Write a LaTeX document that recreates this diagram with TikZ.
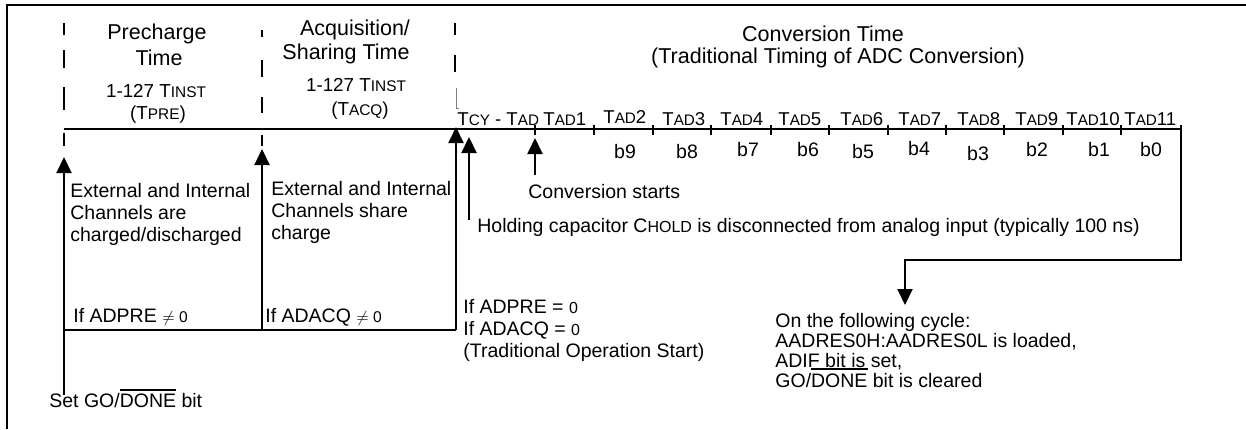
\documentclass[tikz,border=0pt]{standalone}
\usepackage{fontspec}
\setmainfont{Liberation Sans}
\usetikzlibrary{arrows.meta}
\newcommand\smc[1]{\scalebox{0.82}{#1}}
\newcommand\ovl[2]{\setbox0\hbox{#2}\rlap{\rule[#1]{\wd0}{0.8pt}}\box0\relax}
\tikzset{
  ln/.style={line width=1pt},
  arr/.style={line width=1pt,-{Triangle[width=7.5pt,length=8pt]}},
  body/.style={font=\fontsize{9.75}{11}\selectfont, inner sep=0pt, anchor=base west},
  bl/.style={font=\fontsize{9.75}{11}\selectfont, inner sep=0pt, anchor=base},
  ttl/.style={font=\fontsize{10.75}{12}\selectfont, inner sep=0pt, anchor=base},
  sub/.style={font=\fontsize{9.4}{10}\selectfont, inner sep=0pt, anchor=base},
  tlab/.style={font=\fontsize{9.3}{10}\selectfont, inner sep=0pt, anchor=base west},
}
\begin{document}
\begin{tikzpicture}[x=0.5pt,y=-0.5pt]
\useasboundingbox (0,0) rectangle (1246,429);
% frame
\draw[ln] (1246,5) -- (7,5) -- (7,429);
% dashed separators
\foreach \a/\b in {23/35,50/68,87/110,133/146} \draw[ln] (64,\a) -- (64,\b);
\foreach \a/\b in {30/37,60/77,97/113,135/146} \draw[ln] (262,\a) -- (262,\b);
\foreach \a/\b in {23/35,55/72} \draw[ln] (455,\a) -- (455,\b);
\draw[gray,line width=0.4pt] (456,88) -- (456,108) -- (459,108);
% titles
\node[ttl] (p1) at (157,39) {Precharge};
\node[ttl] (p2) at (159,65) {Time};
\node[sub] (p3) at (156,97) {1-127 T\smc{INST}};
\node[sub] (p4) at (158,119) {(T\smc{PRE})};
\node[ttl] (q1) at (355,35) {Acquisition/};
\node[ttl] (q2) at (346,59) {Sharing Time};
\node[sub] (q3) at (356,91) {1-127 T\smc{INST}};
\node[sub] (q4) at (360,115) {(T\smc{ACQ})};
\node[ttl] (c1t) at (823,41) {Conversion Time};
\node[ttl] (c2t) at (838,63) {(Traditional Timing of ADC Conversion)};
% timeline
\coordinate (tl0) at (64,129);
\coordinate (tl1) at (1181,129);
\draw[line width=1.1pt] (tl0) -- (tl1);
\foreach \x in {535,594,653,711,771,829,888,946,1004,1063,1121} \draw[ln] (\x,125) -- (\x,135);
% timeline labels
\node[tlab] (l0) at (457,125) {T\smc{CY} - T\smc{AD}};
\node[tlab] (l1) at (543,125) {T\smc{AD}1};
\node[tlab] (l2) at (603,123) {T\smc{AD}2};
\node[tlab] (l3) at (662,125) {T\smc{AD}3};
\node[tlab] (l4) at (720,125) {T\smc{AD}4};
\node[tlab] (l5) at (778,125) {T\smc{AD}5};
\node[tlab] (l6) at (840,125) {T\smc{AD}6};
\node[tlab] (l7) at (898,125) {T\smc{AD}7};
\node[tlab] (l8) at (957,125) {T\smc{AD}8};
\node[tlab] (l9) at (1015,125) {T\smc{AD}9};
\node[tlab] (l10) at (1066,125) {T\smc{AD}10};
\node[tlab] (l11) at (1124,125) {T\smc{AD}11};
% bit labels
\node[bl] (b9) at (625,158) {b9};
\node[bl] (b8) at (687,158) {b8};
\node[bl] (b7) at (748,156) {b7};
\node[bl] (b6) at (808,156) {b6};
\node[bl] (b5) at (863,158) {b5};
\node[bl] (b4) at (919,155) {b4};
\node[bl] (b3) at (978,160) {b3};
\node[bl] (b2) at (1037,156) {b2};
\node[bl] (b1) at (1099,156) {b1};
\node[bl] (b0) at (1151,156) {b0};
% texts
\node[body] (e1) at (70,197) {External and Internal};
\node[body] (e2) at (70,219) {Channels are};
\node[body] (e3) at (70,241) {charged/discharged};
\node[body] (s1) at (271,195) {External and Internal};
\node[body] (s2) at (271,217) {Channels share};
\node[body] (s3) at (271,239) {charge};
\node[body] (cs) at (528,198) {Conversion starts};
\node[body] (hc) at (477,232) {Holding capacitor C\smc{HOLD} is disconnected from analog input (typically 100 ns)};
\node[body] (ip) at (73,322) {If ADPRE \scalebox{0.8}{$\neq$ 0}};
\node[body] (ia) at (265,322) {If ADACQ \scalebox{0.8}{$\neq$ 0}};
\node[body] (z1) at (463,313) {If ADPRE = \smc{0}};
\node[body] (z2) at (463,335) {If ADACQ = \smc{0}};
\node[body] (z3) at (463,357) {(Traditional Operation Start)};
\node[body] (f1) at (775,327) {On the following cycle:};
\node[body] (f2) at (775,347) {AADRES0H:AADRES0L is loaded,};
\node[body] (f3) at (775,367) {ADIF bit is set,};
\node[body] (f4) at (775,387) {GO/\ovl{8.6pt}{DONE} bit is cleared};
\node[body] (go) at (49,407) {Set GO/\ovl{8pt}{DONE} bit};
% connectors
\coordinate (gob) at (64,395);
\coordinate (a1) at (64,157);
\coordinate (j1) at (64,330);
\coordinate (j2) at (262,330);
\coordinate (j3) at (456,330);
\coordinate (a2) at (262,149);
\coordinate (a3) at (456,127);
\draw[arr] (gob) -- (a1);
\draw[ln] (j1) -- (j3);
\draw[arr] (j2) -- (a2);
\draw[arr] (j3) -- (a3);
\coordinate (h0) at (469,220);
\coordinate (h1) at (469,137);
\draw[arr] (h0) -- (h1);
\coordinate (k0) at (535,175);
\coordinate (k1) at (535,138);
\draw[arr] (k0) -- (k1);
\coordinate (m0) at (1181,125);
\coordinate (m1) at (1181,260);
\coordinate (m2) at (905,260);
\coordinate (m3) at (905,305);
\draw[arr] (m0) -- (m1) -- (m2) -- (m3);
\end{tikzpicture}
\end{document}
